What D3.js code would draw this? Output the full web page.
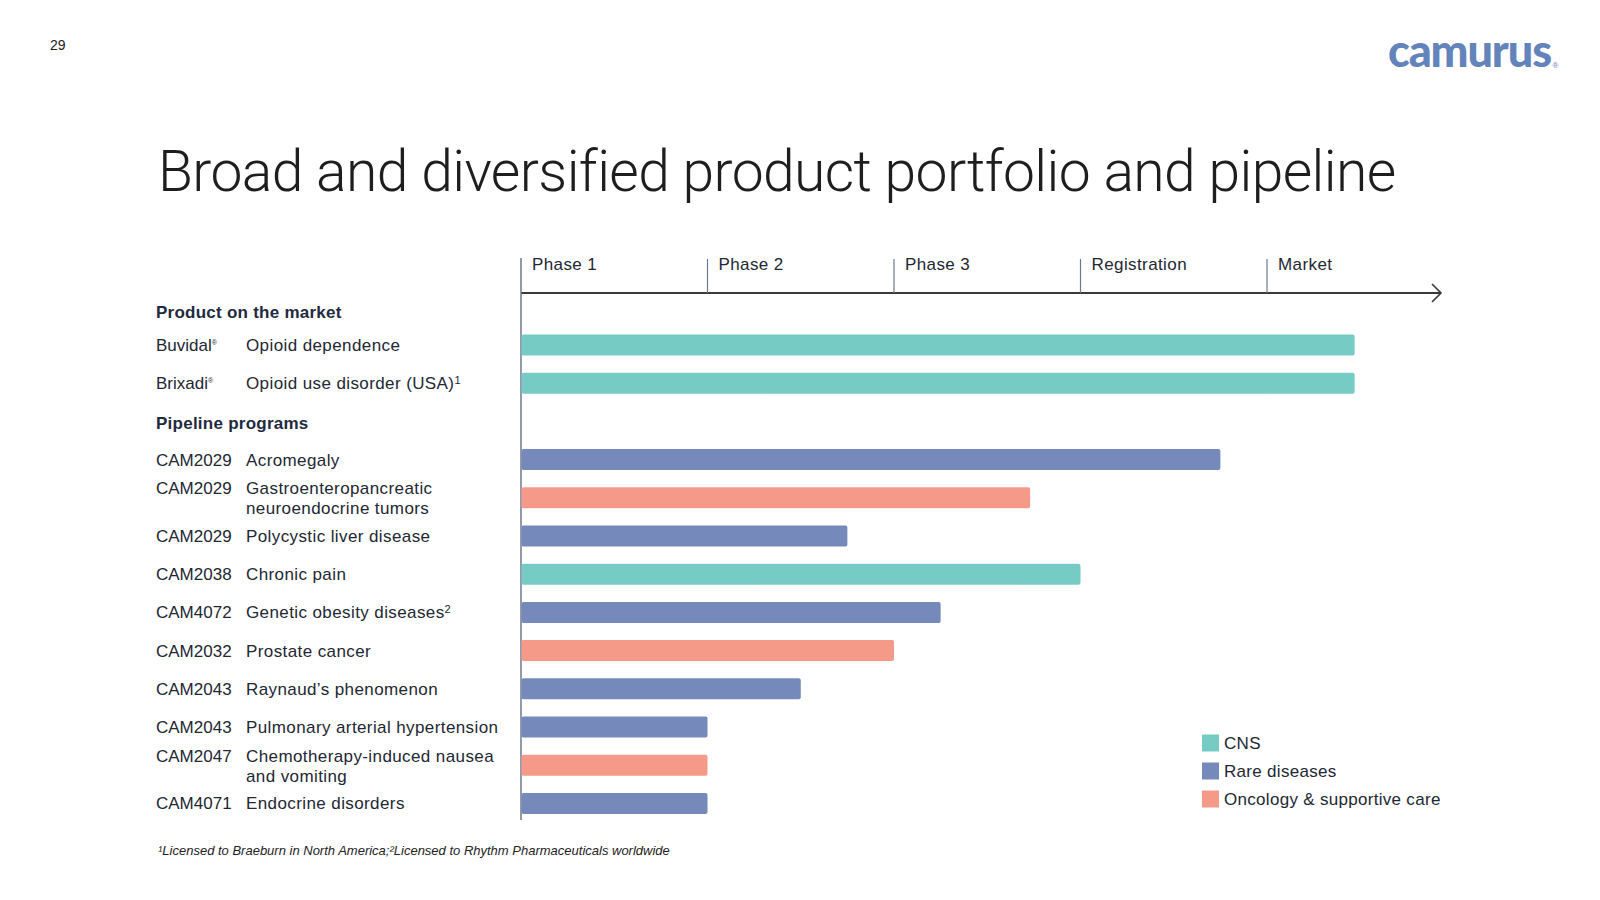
<!DOCTYPE html>
<html>
<head>
<meta charset="utf-8">
<script src="https://cdn.jsdelivr.net/npm/d3@7"></script>
<style>
  html, body { margin: 0; padding: 0; background: #fff; }
  svg { display: block; }
</style>
</head>
<body>
<svg id="chart" width="1600" height="900"></svg>
<script>
// ---------- DATA ----------
const phases = ["Phase 1", "Phase 2", "Phase 3", "Registration", "Market"];
const marketCodes = ["Buvidal", "Brixadi"];
const marketIndications = ["Opioid dependence", "Opioid use disorder (USA)"];
const marketNotes = ["", "1"];
const marketValues = [4.47, 4.47];
const marketAreas = ["CNS", "CNS"];

const pipelineCodes = ["CAM2029", "CAM2029", "CAM2029", "CAM2038", "CAM4072", "CAM2032", "CAM2043", "CAM2043", "CAM2047", "CAM4071"];
const pipelineIndications = [
  ["Acromegaly"],
  ["Gastroenteropancreatic", "neuroendocrine tumors"],
  ["Polycystic liver disease"],
  ["Chronic pain"],
  ["Genetic obesity diseases"],
  ["Prostate cancer"],
  ["Raynaud\u2019s phenomenon"],
  ["Pulmonary arterial hypertension"],
  ["Chemotherapy-induced nausea", "and vomiting"],
  ["Endocrine disorders"]
];
const pipelineNotes = ["", "", "", "", "2", "", "", "", "", ""];
const pipelineValues = [3.75, 2.73, 1.75, 3.0, 2.25, 2.0, 1.5, 1.0, 1.0, 1.0];
const pipelineAreas = ["Rare diseases", "Oncology & supportive care", "Rare diseases", "CNS", "Rare diseases", "Oncology & supportive care", "Rare diseases", "Rare diseases", "Oncology & supportive care", "Rare diseases"];

const areaNames = ["CNS", "Rare diseases", "Oncology & supportive care"];
const areaColors = ["#77cbc5", "#7589ba", "#f59a88"];

const headings = ["Product on the market", "Pipeline programs"];
const titleText = "Broad and diversified product portfolio and pipeline";
const footnote = "\u00b9Licensed to Braeburn in North America;\u00b2Licensed to Rhythm Pharmaceuticals worldwide";

// ---------- BUILD ROWS ----------
const rows = [];
rows.push({id: "h0", type: "heading", text: headings[0]});
marketCodes.forEach((c, i) => rows.push({id: "m" + i, type: "bar", code: c, reg: true, lines: [marketIndications[i]], note: marketNotes[i], value: marketValues[i], area: marketAreas[i]}));
rows.push({id: "h1", type: "heading", text: headings[1]});
pipelineCodes.forEach((c, i) => rows.push({id: "p" + i, type: "bar", code: c, reg: false, lines: pipelineIndications[i], note: pipelineNotes[i], value: pipelineValues[i], area: pipelineAreas[i]}));

// ---------- SCALES ----------
const svg = d3.select("#chart");
const fontMain = "'Liberation Sans', Arial, sans-serif";
const textColor = "#222733";

const x = d3.scaleLinear().domain([0, 5]).range([521, 521 + 5 * 186.5]);
// row centres: evenly spaced points
const y = d3.scalePoint().domain(rows.map(r => r.id)).range([306.8, 306.8 + (rows.length - 1) * 38.2]);
const barH = 21;
const color = d3.scaleOrdinal().domain(areaNames).range(areaColors);

// ---------- PAGE DECOR ----------
svg.append("text").attr("x", 50).attr("y", 50).attr("font-family", fontMain).attr("font-size", 14)
  .attr("fill", "#222").text("29");

const logo = svg.append("text").attr("x", 1388).attr("y", 67).attr("font-family", "Lato, 'Open Sans', sans-serif")
  .attr("font-weight", 900).attr("font-size", 45).attr("fill", "#6383bb").attr("letter-spacing", -1.1).text("camurus");
const logoEnd = 1388 + logo.node().getComputedTextLength();
svg.append("text").attr("x", logoEnd + 1.5).attr("y", 68).attr("font-family", fontMain)
  .attr("font-size", 8).attr("fill", "#6383bb").text("\u00ae");

svg.append("text").attr("x", 158).attr("y", 191).attr("font-family", "Roboto, sans-serif")
  .attr("font-weight", 300).attr("font-size", 57).attr("letter-spacing", -0.6).attr("fill", "#1e1e1e").text(titleText);

// ---------- AXIS ----------
const axisG = svg.append("g");
axisG.append("line").attr("x1", x(0)).attr("x2", 1441).attr("y1", 293).attr("y2", 293)
  .attr("stroke", "#3a3a3a").attr("stroke-width", 1.8);
axisG.append("path").attr("d", `M${1432},${284} L${1441},${293} L${1432},${302}`)
  .attr("fill", "none").attr("stroke", "#3a3a3a").attr("stroke-width", 1.6);
axisG.append("line").attr("x1", x(0)).attr("x2", x(0)).attr("y1", 258).attr("y2", 820)
  .attr("stroke", "#6f7890").attr("stroke-width", 1.5);
const ticks = axisG.selectAll("g.tick").data(phases).join("g").attr("class", "tick")
  .attr("transform", (d, i) => `translate(${x(i)},0)`);
ticks.filter((d, i) => i > 0).append("line").attr("y1", 259).attr("y2", 293)
  .attr("stroke", "#6f7890").attr("stroke-width", 1.2);
ticks.append("text").attr("x", 11).attr("y", 270).attr("font-family", fontMain).attr("font-size", 17)
  .attr("letter-spacing", 0.4).attr("fill", textColor).text(d => d);

// ---------- ROWS ----------
const labelG = svg.append("g").attr("font-family", fontMain).attr("fill", textColor);
rows.filter(r => r.type === "heading").forEach((r, i) => {
  labelG.append("text").attr("x", 156).attr("y", y(r.id) + (i === 0 ? 5 : 2)).attr("dy", "0.35em")
    .attr("font-weight", 700).attr("font-size", 17).attr("letter-spacing", 0.25).attr("fill", "#1f2a3f").text(r.text);
});
const barRows = rows.filter(r => r.type === "bar");
barRows.forEach(r => {
  const c = y(r.id);
  const top = r.lines.length > 1 ? c - 9.5 : c;
  const code = labelG.append("text").attr("x", 156).attr("y", top).attr("dy", "0.35em").attr("font-size", 17);
  code.append("tspan").text(r.code);
  if (r.reg) code.append("tspan").attr("font-size", 7).attr("dy", "-0.9em").text("\u00ae");
  r.lines.forEach((ln, j) => {
    const t = labelG.append("text").attr("x", 246).attr("y", top + j * 20).attr("dy", "0.35em")
      .attr("font-size", 17).attr("letter-spacing", 0.4);
    t.append("tspan").text(ln);
    if (j === r.lines.length - 1 && r.note) t.append("tspan").attr("font-size", 11).attr("dy", "-0.5em").text(r.note);
  });
});

svg.append("g").selectAll("rect").data(barRows).join("rect")
  .attr("x", x(0) + 0.5)
  .attr("y", d => y(d.id) - barH / 2)
  .attr("width", d => x(d.value) - x(0) - 0.5)
  .attr("height", barH)
  .attr("rx", 2)
  .attr("fill", d => color(d.area));

// ---------- LEGEND ----------
const legend = svg.append("g").selectAll("g").data(areaNames).join("g")
  .attr("transform", (d, i) => `translate(1202,${743 + i * 28})`);
legend.append("rect").attr("x", 0).attr("y", -8.5).attr("width", 17).attr("height", 17).attr("fill", d => color(d));
legend.append("text").attr("x", 22).attr("y", 0).attr("dy", "0.35em").attr("font-family", fontMain)
  .attr("font-size", 17).attr("letter-spacing", 0.3).attr("fill", textColor).text(d => d);

// ---------- FOOTNOTE ----------
svg.append("text").attr("x", 158).attr("y", 855).attr("font-family", fontMain).attr("font-style", "italic")
  .attr("font-size", 13).attr("letter-spacing", 0).attr("fill", "#222").text(footnote);
</script>
</body>
</html>
